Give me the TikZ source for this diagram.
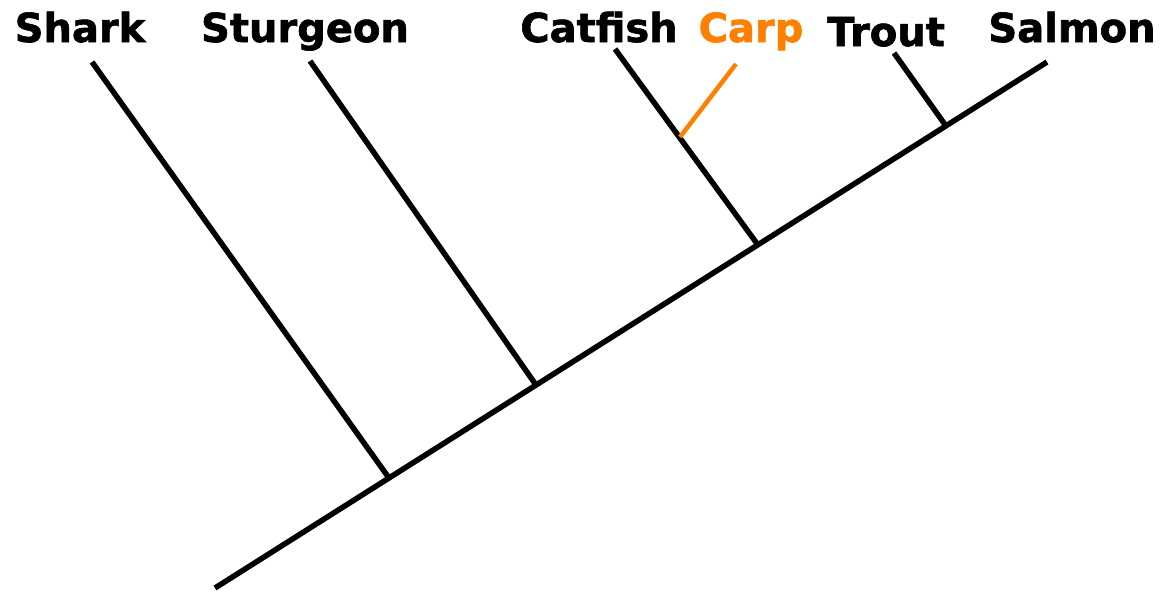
\documentclass[tikz,border=0pt]{standalone}
\usepackage{fontspec}
\setmainfont{DejaVu Sans}[BoldFeatures={FakeBold=1.6}]
\definecolor{carporange}{HTML}{FF8000}
\tikzset{
  branch/.style={line width=5.5pt, black},
  carpbranch/.style={line width=4.5pt, carporange},
  taxon/.style={font=\fontsize{40}{40}\selectfont\bfseries, anchor=base, inner sep=0pt},
}
\begin{document}
\begin{tikzpicture}[x=1pt,y=-1pt]
\useasboundingbox (0,0) rectangle (1174,592);
% main axis
\coordinate (root) at (215,588);
\coordinate (salmonend) at (1047,62);
\coordinate (j1) at (389,478);
\coordinate (j2) at (536,385);
\coordinate (j3) at (758,245);
\coordinate (j4) at (946,126);
\coordinate (sharkend) at (92,62);
\coordinate (sturgeonend) at (310,61);
\coordinate (catfishend) at (615,49);
\coordinate (carpjoin) at (680,137);
\coordinate (carpend) at (736,64);
\coordinate (troutend) at (894,53);
\draw[branch] (root) -- (salmonend);
\draw[branch] (j1) -- (sharkend);
\draw[branch] (j2) -- (sturgeonend);
\draw[branch] (j3) -- (catfishend);
\draw[branch] (j4) -- (troutend);
\draw[carpbranch] (carpjoin) -- (carpend);
% labels
\node[taxon] (shark) at (80,42) {Shark};
\node[taxon] (sturgeon) at (305,42) {Sturgeon};
\node[taxon] (catfish) at (599,42) {Catfish};
\node[taxon, text=carporange] (carp) at (751,42) {Carp};
\node[taxon] (trout) at (886,46) {Trout};
\node[taxon] (salmon) at (1072,42) {Salmon};
\end{tikzpicture}
\end{document}
